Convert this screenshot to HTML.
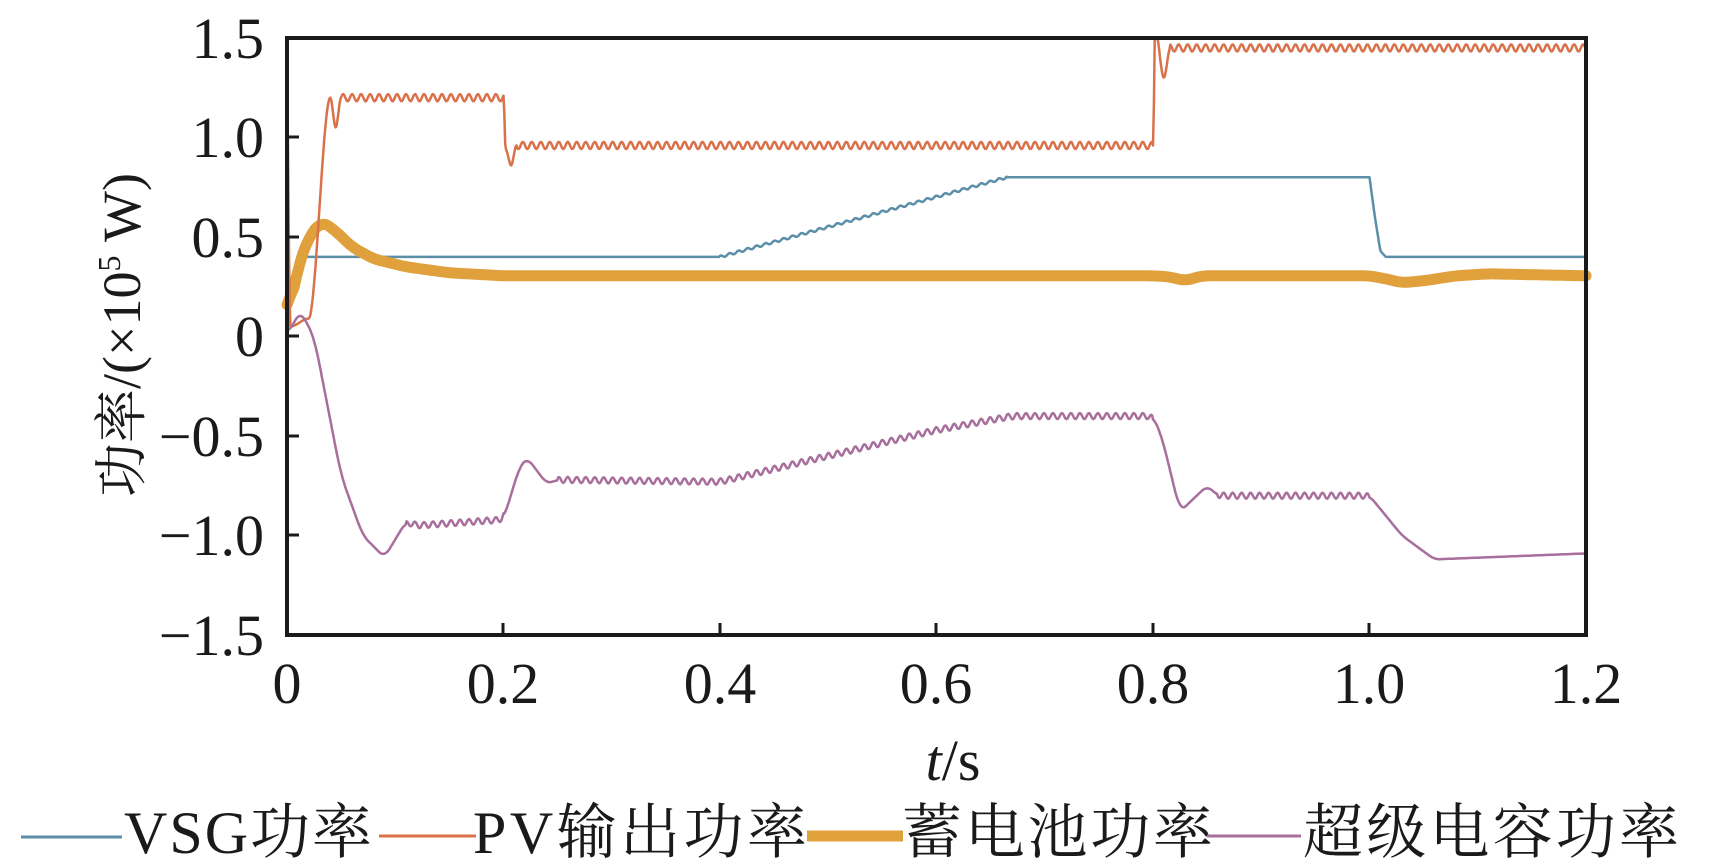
<!DOCTYPE html>
<html><head><meta charset="utf-8"><style>
html,body{margin:0;padding:0;background:#fff;}
svg{display:block;}
text{font-family:"Liberation Serif","Noto Serif CJK SC","Noto Sans CJK SC",serif;fill:#1a1a1a;}
</style></head><body>
<svg id="s" width="1723" height="865" viewBox="0 0 1723 865" xmlns="http://www.w3.org/2000/svg">
<g id="series"></g>
<rect x="287" y="38" width="1299" height="597" fill="none" stroke="#1a1a1a" stroke-width="4"/>
<g stroke="#1a1a1a" stroke-width="3">
<line x1="503" y1="635" x2="503" y2="623"/><line x1="720" y1="635" x2="720" y2="623"/>
<line x1="936" y1="635" x2="936" y2="623"/><line x1="1153" y1="635" x2="1153" y2="623"/>
<line x1="1369" y1="635" x2="1369" y2="623"/>
<line x1="287" y1="137" x2="299" y2="137"/><line x1="287" y1="237" x2="299" y2="237"/>
<line x1="287" y1="336" x2="299" y2="336"/><line x1="287" y1="436" x2="299" y2="436"/>
<line x1="287" y1="535" x2="299" y2="535"/>
</g>
<g font-size="58" text-anchor="end">
<text x="264" y="58">1.5</text><text x="264" y="157">1.0</text><text x="264" y="257">0.5</text>
<text x="264" y="356">0</text><text x="264" y="456">−0.5</text><text x="264" y="555">−1.0</text>
<text x="264" y="655">−1.5</text>
</g>
<g font-size="58" text-anchor="middle">
<text x="287" y="703">0</text><text x="503" y="703">0.2</text><text x="720" y="703">0.4</text>
<text x="936" y="703">0.6</text><text x="1153" y="703">0.8</text><text x="1369" y="703">1.0</text>
<text x="1586" y="703">1.2</text>
</g>
<text x="953" y="780" font-size="58" text-anchor="middle"><tspan font-style="italic">t</tspan>/s</text>
<text transform="translate(140,335) rotate(-90)" font-size="54" text-anchor="middle">功率/(×10<tspan font-size="32" dy="-20">5</tspan><tspan dy="20"> W)</tspan></text>
<line x1="21" y1="837" x2="122" y2="837" stroke="#5B8FA8" stroke-width="3"/>
<text x="124" y="853" font-size="60" textLength="248">VSG功率</text>
<line x1="379" y1="836" x2="476" y2="836" stroke="#D9714A" stroke-width="3"/>
<text x="473" y="853" font-size="60" textLength="334">PV输出功率</text>
<line x1="807" y1="836" x2="903" y2="836" stroke="#E0A03C" stroke-width="11"/>
<text x="902" y="853" font-size="60" textLength="311">蓄电池功率</text>
<line x1="1207" y1="836" x2="1301" y2="836" stroke="#A86E9C" stroke-width="3"/>
<text x="1303" y="853" font-size="60" textLength="376">超级电容功率</text>
</svg>
<script>
var DT=0.0008;
function X(t){return 287+1082.5*t;}
function Y(v){return 336.5-199*v;}
function interp(pts,t,smooth){for(var i=1;i<pts.length;i++){if(t<=pts[i][0]){var a=pts[i-1],b=pts[i];var f=(t-a[0])/(b[0]-a[0]||1);if(smooth)f=f*f*(3-2*f);return a[1]+(b[1]-a[1])*f;}}return pts[pts.length-1][1];}
function path(pts,ripple,smooth,win){var vals=[];var ts=[];for(var t=0;t<=1.2001;t+=DT){ts.push(t);vals.push(interp(pts,t,smooth));}
 if(win){var out=[];for(var i=0;i<vals.length;i++){var s=0,n=0;for(var k=-win;k<=win;k++){var j=i+k;if(j>=0&&j<vals.length){s+=vals[j];n++;}}out.push(s/n);}vals=out;}
 var d="";for(var i=0;i<vals.length;i++){var v=vals[i];if(ripple)v+=ripple(ts[i]);v=Math.max(-1.5,Math.min(1.5,v));d+=(d?"L":"M")+X(ts[i]).toFixed(1)+","+Y(v).toFixed(1);}return d;}
function rip(a,ranges){return function(t){for(var i=0;i<ranges.length;i++){if(t>ranges[i][0]&&t<ranges[i][1])return a*Math.sin(2*Math.PI*t/0.0083);}return 0;};}
var vsg=[[0,0],[0.004,0.25],[0.012,0.4],[0.4,0.4],[0.665,0.8],[1.0,0.8],[1.005,0.6],[1.01,0.43],[1.015,0.4],[1.2,0.4]];
var pv=[[0,1.2],[0.003,0.05],[0.02,0.09],[0.04,1.2],[0.045,1.05],[0.05,1.2],[0.2,1.2],[0.202,0.94],[0.207,0.86],[0.212,0.96],[0.8,0.96],[0.802,1.55],[0.81,1.3],[0.816,1.45],[1.2,1.45]];
var bat=[[0,0.07],[0.01,0.35],[0.02,0.5],[0.032,0.58],[0.045,0.53],[0.06,0.45],[0.08,0.39],[0.11,0.35],[0.15,0.32],[0.2,0.305],[0.8,0.305],[0.815,0.3],[0.83,0.28],[0.845,0.305],[1.0,0.305],[1.015,0.29],[1.03,0.27],[1.05,0.28],[1.08,0.305],[1.11,0.315],[1.2,0.305]];
var cap=[[0,0.0],[0.012,0.13],[0.025,0.0],[0.05,-0.7],[0.07,-1.0],[0.09,-1.11],[0.11,-0.93],[0.12,-0.95],[0.2,-0.92],[0.215,-0.65],[0.222,-0.61],[0.24,-0.74],[0.25,-0.72],[0.4,-0.73],[0.5,-0.6],[0.6,-0.47],[0.67,-0.4],[0.8,-0.4],[0.808,-0.5],[0.825,-0.88],[0.85,-0.75],[0.86,-0.8],[1.0,-0.8],[1.03,-1.0],[1.06,-1.12],[1.2,-1.09]];
var g=document.getElementById("series");
function add(d,c,w){var p=document.createElementNS("http://www.w3.org/2000/svg","path");p.setAttribute("d",d);p.setAttribute("fill","none");p.setAttribute("stroke",c);p.setAttribute("stroke-width",w);p.setAttribute("stroke-linejoin","round");p.setAttribute("stroke-linecap","round");g.appendChild(p);}
add(path(vsg,rip(0.006,[[0.4,0.665]]),false,0),"#5B8FA8",2.5);
add(path(bat,null,false,8),"#E0A03C",11);
add(path(pv,rip(0.018,[[0.05,0.2],[0.212,0.8],[0.816,1.2]]),true,0),"#D9714A",2.5);
add(path(cap,rip(0.015,[[0.11,0.2],[0.25,0.8],[0.86,1.0]]),false,6),"#A86E9C",2.5);
</script>
</body></html>
